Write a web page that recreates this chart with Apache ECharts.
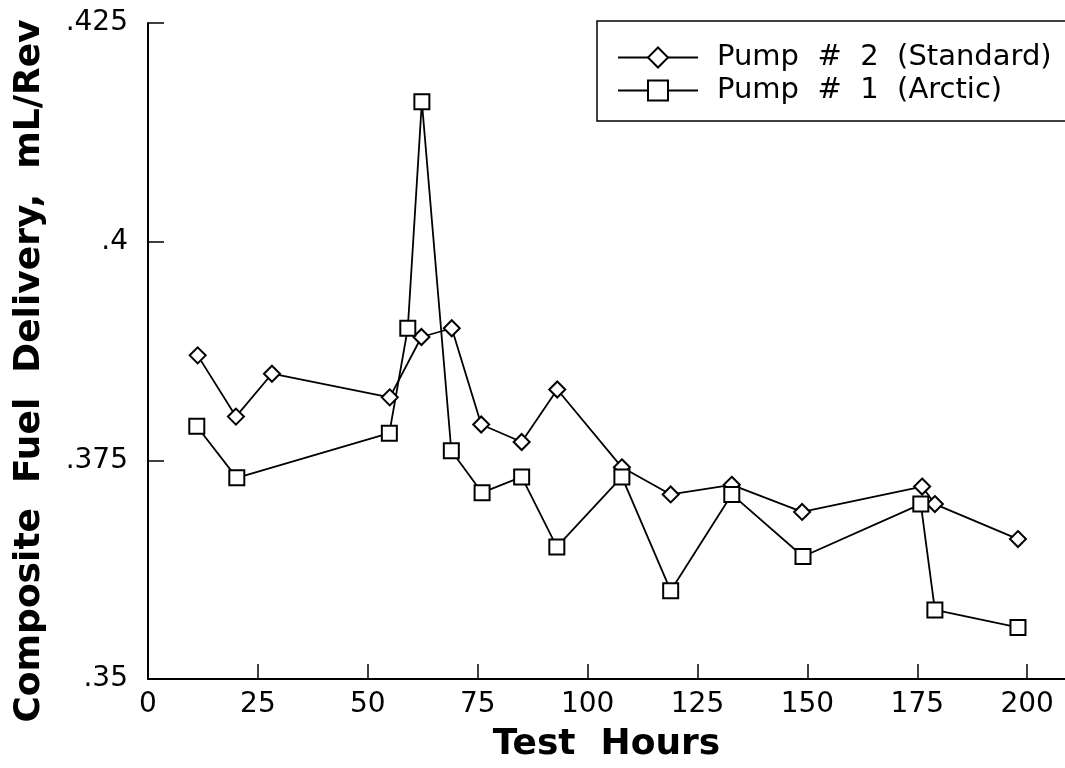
<!DOCTYPE html>
<html>
<head>
    <meta charset="utf-8" />
    <title>Composite Fuel Delivery</title>
    <script src="https://cdn.jsdelivr.net/npm/echarts@6/dist/echarts.min.js"></script>
    <style>
        html, body {
            width: 100%;
            height: 100%;
            margin: 0px;
            padding: 0px;
            background: #fff;
        }
        #main {
            width: 1065px;
            height: 768px;
        }
    </style>
</head>
<body>
    <div id="main"></div>
<script type="text/javascript">
    // test hours and delivery (mL/rev)
    var pump2Hours = [11.3, 20.0, 28.2, 55.0, 62.2, 69.1, 75.8, 85.0, 93.1, 107.8, 118.9, 132.8, 148.8, 176.1, 179.0, 197.9];
    var pump2Values = [.3870, .3800, .3849, .3822, .3891, .3901, .3791, .3771, .3831, .3742, .3711, .3722, .3691, .3720, .3700, .3660];

    var pump1Hours = [11.1, 20.2, 54.9, 59.1, 62.3, 69.0, 76.0, 85.0, 93.0, 107.8, 118.9, 132.8, 149.0, 175.8, 179.0, 197.9];
    var pump1Values = [.3789, .3730, .3781, .3901, .4160, .3761, .3713, .3731, .3651, .3731, .3601, .3711, .3640, .3700, .3579, .3559];

    var xTicks = [0, 25, 50, 75, 100, 125, 150, 175, 200];
    var yTicks = [.35, .375, .4, .425];

    function pairs(xs, ys) {
        return xs.map(function (x, i) { return [x, ys[i]]; });
    }

    var myChart = echarts.init(document.getElementById('main'));

    var labelFont = 'DejaVu Sans';

    myChart.setOption({
        animation: false,
        backgroundColor: '#fff',
        grid: {
            left: 148,
            right: 0,
            top: 23,
            bottom: 86
        },
        legend: {
            orient: 'vertical',
            left: 597,
            top: 21,
            padding: [22, 30, 16, 20],
            itemWidth: 80,
            itemHeight: 25,
            itemGap: 4,
            borderColor: '#000',
            borderWidth: 1.5,
            borderRadius: 0,
            textStyle: {
                fontFamily: labelFont,
                fontSize: 29,
                color: '#000',
                padding: [0, 0, 0, 14]
            },
            data: ['Pump  #  2  (Standard)', 'Pump  #  1  (Arctic)']
        },
        xAxis: {
            type: 'value',
            min: xTicks[0],
            max: 208.6,
            interval: 25,
            name: 'Test  Hours',
            nameLocation: 'middle',
            nameGap: 48,
            nameTextStyle: {
                fontFamily: labelFont,
                fontWeight: 'bold',
                fontSize: 36,
                color: '#000'
            },
            axisLine: { lineStyle: { color: '#000', width: 2 } },
            axisTick: { inside: true, length: 15, lineStyle: { color: '#000', width: 1.5 } },
            axisLabel: {
                showMaxLabel: false,
                margin: 12,
                fontFamily: labelFont,
                fontSize: 28,
                color: '#000'
            },
            splitLine: { show: false }
        },
        yAxis: {
            type: 'value',
            min: yTicks[0],
            max: yTicks[yTicks.length - 1],
            interval: 0.025,
            name: 'Composite  Fuel  Delivery,  mL/Rev',
            nameLocation: 'middle',
            nameGap: 100,
            nameTextStyle: {
                fontFamily: labelFont,
                fontWeight: 'bold',
                fontSize: 36,
                color: '#000',
                padding: [0, 40, 0, 0]
            },
            axisLine: { lineStyle: { color: '#000', width: 2 } },
            axisTick: { inside: true, length: 16, lineStyle: { color: '#000', width: 1.5 } },
            axisLabel: {
                margin: 20,
                fontFamily: labelFont,
                fontSize: 28,
                color: '#000',
                formatter: function (v) {
                    return v.toFixed(3).replace(/0+$/, '').replace(/^0/, '');
                }
            },
            splitLine: { show: false }
        },
        series: [
            {
                name: 'Pump  #  2  (Standard)',
                type: 'line',
                data: pairs(pump2Hours, pump2Values),
                symbol: 'diamond',
                symbolSize: 16,
                showAllSymbol: true,
                lineStyle: { color: '#000', width: 1.8 },
                itemStyle: { color: '#fff', borderColor: '#000', borderWidth: 2 }
            },
            {
                name: 'Pump  #  1  (Arctic)',
                type: 'line',
                data: pairs(pump1Hours, pump1Values),
                symbol: 'rect',
                symbolSize: 15,
                showAllSymbol: true,
                lineStyle: { color: '#000', width: 1.8 },
                itemStyle: { color: '#fff', borderColor: '#000', borderWidth: 2 }
            }
        ]
    });

    window.addEventListener('resize', function () {
        myChart.resize();
    });
</script>
</body>
</html>
